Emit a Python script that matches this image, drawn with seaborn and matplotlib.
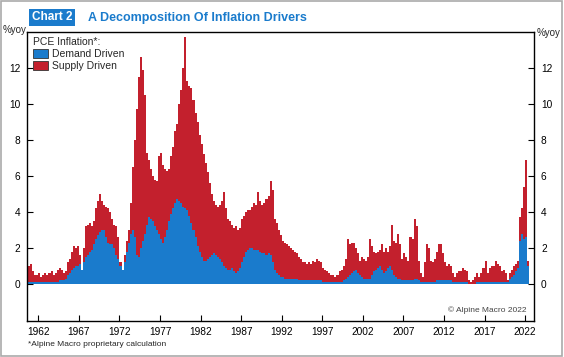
"""Alpine Macro chart 2: PCE inflation split into demand and supply parts."""
import matplotlib
matplotlib.use('Agg')
import matplotlib.pyplot as plt
from matplotlib.patches import Patch, Rectangle
import numpy as np
import pandas as pd
import seaborn as sns

# quarterly readings, starting 1960 Q4 and ending 2022 Q2 (%yoy)
FIRST_QUARTER = 1960.75
TOTAL = [
    1.0,
    1.1, 0.7, 0.5, 0.5,   0.6, 0.4, 0.5, 0.6,   0.5, 0.6, 0.7, 0.5,   0.6, 0.8, 0.9, 0.8,
    0.6, 0.7, 1.2, 1.4,   1.8, 2.1, 2.0, 2.1,   1.6, 0.8, 2.0, 3.2,   3.3, 3.4, 3.2, 3.5,
    4.2, 4.6, 5.0, 4.6,   4.4, 4.3, 4.2, 4.0,   3.6, 3.3, 3.2, 2.6,   1.2, 0.8, 1.6, 2.4,
    3.0, 4.5, 6.5, 8.0,   9.7, 11.5, 12.6, 11.9,   10.5, 7.3, 6.9, 6.4,   6.0, 5.8, 5.7, 7.1,
    7.3, 6.6, 6.4, 6.3,   6.4, 7.1, 7.6, 8.5,   8.9, 10.0, 10.8, 12.0,   13.7, 11.3, 11.0, 10.9,
    10.2, 9.5, 9.0, 8.3,   7.8, 7.2, 6.7, 6.2,   5.6, 5.0, 4.6, 4.4,   4.3, 4.4, 4.6, 5.1,
    4.2, 3.6, 3.5, 3.3,   3.1, 3.2, 3.0, 3.1,   3.6, 3.8, 4.0, 4.1,   4.1, 4.3, 4.5, 4.4,
    5.1, 4.6, 4.4, 4.5,   4.7, 4.9, 5.7, 5.2,   3.6, 3.4, 3.0, 2.7,   2.4, 2.3, 2.2, 2.1,
    2.0, 1.9, 1.8, 1.7,   1.5, 1.4, 1.2, 1.2,   1.1, 1.2, 1.1, 1.3,   1.2, 1.4, 1.3, 1.2,
    0.9, 0.8, 0.7, 0.6,   0.5, 0.5, 0.4, 0.5,   0.7, 0.8, 1.0, 1.4,   2.5, 2.2, 2.3, 2.3,
    2.0, 1.7, 1.3, 1.5,   1.4, 1.3, 1.5, 2.5,   2.1, 1.8, 1.7, 1.8,   1.9, 2.2, 1.8, 2.0,
    1.8, 2.1, 3.3, 2.4,   2.3, 2.8, 2.2, 1.4,   1.7, 1.5, 1.3, 2.6,   2.5, 3.6, 3.2, 1.3,
    0.6, 0.4, 1.2, 2.2,   2.0, 1.3, 1.2, 1.4,   1.8, 2.2, 2.2, 1.7,   1.2, 1.0, 1.1, 1.0,
    0.6, 0.4, 0.6, 0.7,   0.7, 0.9, 0.8, 0.7,   0.2, 0.1, 0.2, 0.4,   0.6, 0.4, 0.6, 0.9,
    1.3, 0.6, 0.9, 1.0,   1.0, 1.3, 1.1, 1.0,   0.7, 0.8, 0.6, 0.2,   0.6, 0.8, 1.0, 1.1,
    1.3, 3.7, 4.2, 5.4,
    6.9, 1.3,
]
DEMAND = [
    0.1,
    0.1, 0.1, 0.1, 0.1,   0.1, 0.1, 0.1, 0.1,   0.1, 0.1, 0.1, 0.1,   0.1, 0.1, 0.2, 0.2,
    0.2, 0.3, 0.5, 0.6,   0.8, 0.9, 1.0, 1.0,   1.1, 0.8, 1.2, 1.5,   1.6, 1.8, 1.9, 2.2,
    2.5, 2.7, 2.9, 3.0,   3.0, 2.6, 2.3, 2.2,   2.2, 2.0, 1.6, 1.4,   1.0, 0.8, 1.2, 1.8,
    2.3, 2.8, 3.0, 2.6,   1.6, 1.5, 2.0, 2.4,   2.8, 3.3, 3.7, 3.6,   3.5, 3.2, 3.0, 2.8,
    2.5, 2.3, 2.6, 3.0,   3.5, 3.9, 4.2, 4.5,   4.7, 4.6, 4.5, 4.3,   4.2, 4.1, 3.8, 3.4,
    3.0, 2.6, 2.1, 1.8,   1.5, 1.3, 1.3, 1.4,   1.5, 1.6, 1.7, 1.6,   1.5, 1.4, 1.2, 1.0,
    0.9, 0.8, 0.8, 0.9,   0.7, 0.6, 0.7, 0.9,   1.2, 1.5, 1.8, 1.9,   2.0, 2.0, 1.9, 1.9,
    1.9, 1.8, 1.7, 1.7,   1.6, 1.7, 1.6, 1.2,   0.8, 0.6, 0.5, 0.4,   0.4, 0.3, 0.3, 0.3,
    0.3, 0.3, 0.3, 0.3,   0.2, 0.2, 0.2, 0.2,   0.2, 0.2, 0.2, 0.2,   0.2, 0.2, 0.2, 0.2,
    0.1, 0.1, 0.1, 0.1,   0.1, 0.1, 0.1, 0.1,   0.1, 0.1, 0.2, 0.3,   0.4, 0.5, 0.6, 0.7,
    0.8, 0.6, 0.5, 0.4,   0.3, 0.3, 0.3, 0.3,   0.5, 0.7, 0.8, 0.9,   1.0, 0.8, 0.6, 0.7,
    0.9, 1.0, 0.8, 0.5,   0.4, 0.3, 0.3, 0.2,   0.2, 0.2, 0.2, 0.2,   0.2, 0.3, 0.3, 0.2,
    0.1, 0.1, 0.1, 0.1,   0.1, 0.1, 0.1, 0.1,   0.2, 0.2, 0.2, 0.2,   0.2, 0.2, 0.2, 0.2,
    0.1, 0.1, 0.1, 0.1,   0.1, 0.1, 0.1, 0.1,   0.0, 0.0, 0.0, 0.0,   0.1, 0.1, 0.1, 0.1,
    0.1, 0.1, 0.1, 0.1,   0.1, 0.1, 0.1, 0.1,   0.1, 0.1, 0.1, 0.1,   0.3, 0.4, 0.5, 0.7,
    0.9, 2.4, 2.8, 2.5,
    2.6, 1.0,
]
SERIES = ['Demand Driven', 'Supply Driven']
COLORS = {'Demand Driven': '#1a7bcc', 'Supply Driven': '#c3202d'}
YEAR_TICKS = list(range(1962, 2023, 5))
Y_TICKS = [0, 2, 4, 6, 8, 10, 12]


def main() -> None:
    sns.set_style('white')
    plt.rcParams['font.family'] = ['Liberation Sans', 'DejaVu Sans']

    total = np.array(TOTAL)
    demand = np.array(DEMAND)
    x = FIRST_QUARTER + 0.125 + 0.25 * np.arange(len(total))
    df = pd.concat([
        pd.DataFrame({'date': x, 'value': demand, 'part': 'Demand Driven'}),
        pd.DataFrame({'date': x, 'value': total - demand, 'part': 'Supply Driven'}),
    ], ignore_index=True)
    last_edge = FIRST_QUARTER + 0.25 * len(total)

    fig = plt.figure(figsize=(5.64, 3.57), dpi=100)
    ax = fig.add_axes([27 / 564, 1 - 321 / 357, 507 / 564, 289 / 357])

    # seaborn puts the first hue level on top of the stack
    sns.histplot(
        data=df, x='date', weights='value', hue='part',
        hue_order=SERIES[::-1], palette=COLORS,
        multiple='stack', binwidth=0.25, binrange=(FIRST_QUARTER, last_edge),
        element='bars', alpha=1, linewidth=0, legend=False, ax=ax,
    )

    ax.set_xlim(1960.6, 2023.1)
    ax.set_ylim(-2.05, 14.0)
    ax.set_xticks(YEAR_TICKS)
    ax.set_yticks(Y_TICKS)
    ax.set_xlabel('')
    ax.set_ylabel('')
    ax.tick_params(axis='both', direction='in', length=4, width=0.8,
                   labelsize=7.3, colors='black')
    ax.tick_params(axis='y', left=True, right=True, labelleft=True,
                   labelright=True, pad=5)
    ax.tick_params(axis='x', bottom=True, pad=4)
    for sp in ax.spines.values():
        sp.set_visible(True)
        sp.set_color('black')
        sp.set_linewidth(1.0)

    handles = [Patch(facecolor=COLORS[s], edgecolor='#333333', linewidth=0.6)
               for s in SERIES]
    leg = ax.legend(handles, SERIES, title='PCE Inflation*:', loc='upper left',
                    bbox_to_anchor=(-0.005, 1.01), frameon=False, fontsize=7.5,
                    title_fontsize=7.5, handlelength=1.5, handleheight=1.0,
                    handletextpad=0.3, labelspacing=0.15, borderpad=0.3,
                    alignment='left')

    ax.text(0.986, 0.038, '\u00a9 Alpine Macro 2022', transform=ax.transAxes,
            ha='right', va='center', fontsize=6, color='#444444')

    fig.text(3 / 564, 1 - 30 / 357, '%yoy', ha='left', va='center', fontsize=7)
    fig.text(537 / 564, 1 - 33 / 357, '%yoy', ha='left', va='center', fontsize=7)

    fig.text(28 / 564, 1 - 344 / 357, '*Alpine Macro proprietary calculation',
             ha='left', va='center', fontsize=6)

    fig.text(32 / 564, 1 - 17.5 / 357, 'Chart 2', ha='left', va='center',
             fontsize=8.5, fontweight='bold', color='white',
             family=['Liberation Sans Narrow', 'Liberation Sans'],
             bbox=dict(boxstyle='square,pad=0.25', facecolor='#1a7bcc',
                       edgecolor='none'))
    fig.text(88 / 564, 1 - 17.5 / 357, 'A Decomposition Of Inflation Drivers',
             ha='left', va='center', fontsize=9, fontweight='bold',
             color='#1a7bcc',
             family=['Liberation Sans Narrow', 'Liberation Sans'])

    fig.patches.append(Rectangle((0.002, 0.003), 0.995, 0.994,
                                 transform=fig.transFigure, fill=False,
                                 edgecolor='#aaaaaa', linewidth=1.2))

    fig.savefig('out.png', dpi=100)


if __name__ == '__main__':
    main()
